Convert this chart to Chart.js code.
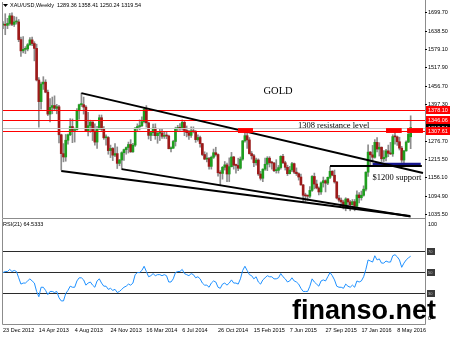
<!DOCTYPE html>
<html>
<head>
<meta charset="utf-8">
<script src="https://cdn.jsdelivr.net/npm/chart.js@4.4.1/dist/chart.umd.min.js"></script>
<style>
  html, body { margin: 0; padding: 0; background: #fff; }
  #wrap { position: relative; width: 450px; height: 337px; overflow: hidden; }
  canvas { position: absolute; left: 0; }
  #price { top: 0; }
  #rsi { top: 218px; }
</style>
</head>
<body>
<div id="wrap">
  <canvas id="price" width="450" height="219"></canvas>
  <canvas id="rsi" width="450" height="119"></canvas>
</div>
<script>
// weekly XAU/USD, 23 Dec 2012 .. 19 Jun 2016
const opens = [1657,1657,1656,1662,1687,1659,1667,1667,1609,1572,
  1577,1578,1592,1608,1596,1580,1476,1405,1463,1469,
  1436,1364,1386,1392,1383,1388,1296,1234,1223,1278,
  1296,1323,1310,1313,1375,1395,1395,1387,1308,1326,
  1338,1308,1272,1315,1352,1314,1286,1287,1244,1251,
  1229,1234,1202,1213,1237,1247,1254,1264,1240,1262,
  1318,1323,1326,1339,1379,1335,1294,1303,1318,1293,
  1301,1302,1291,1293,1292,1250,1252,1274,1316,1320,
  1317,1337,1310,1303,1294,1309,1306,1280,1287,1267,
  1231,1216,1218,1192,1222,1237,1231,1171,1169,1189,
  1197,1167,1191,1223,1196,1195,1186,1216,1276,1293,
  1279,1234,1227,1204,1213,1167,1153,1183,1199,1219,
  1204,1203,1178,1179,1188,1225,1204,1189,1168,1180,
  1201,1173,1168,1157,1131,1097,1095,1094,1113,1159,
  1134,1121,1108,1138,1145,1137,1156,1176,1163,1141,
  1088,1081,1075,1056,1085,1075,1066,1076,1061,1098,
  1089,1097,1117,1173,1239,1230,1222,1271,1249,1255,
  1217,1222,1243,1235,1233,1290,1289,1273,1252,1213,
  1243,1272,1289.36];
const highs = [1668,1694,1679,1695,1697,1685,1683,1675,1617,1619,
  1586,1596,1616,1617,1602,1594,1484,1469,1487,1477,
  1443,1415,1420,1424,1396,1393,1298,1267,1297,1298,
  1349,1348,1318,1382,1397,1433,1420,1392,1370,1344,
  1339,1332,1324,1361,1361,1323,1296,1290,1262,1254,
  1267,1256,1215,1240,1249,1256,1272,1280,1268,1320,
  1332,1345,1355,1385,1392,1338,1305,1331,1332,1304,
  1316,1315,1307,1306,1295,1256,1278,1321,1327,1333,
  1345,1340,1325,1311,1322,1322,1310,1296,1292,1268,
  1240,1237,1222,1226,1249,1255,1233,1178,1192,1208,
  1203,1220,1238,1225,1200,1219,1223,1277,1307,1304,
  1287,1241,1232,1219,1217,1176,1184,1219,1224,1224,
  1209,1205,1214,1195,1227,1232,1209,1196,1192,1205,
  1203,1187,1171,1167,1133,1104,1098,1126,1162,1170,
  1147,1125,1141,1157,1148,1157,1191,1178,1180,1142,
  1097,1088,1081,1089,1086,1080,1083,1083,1112,1106,
  1111,1128,1174,1263,1241,1261,1280,1287,1270,1256,
  1244,1248,1262,1271,1296,1304,1292,1288,1258,1245,
  1276,1316,1358.41];
const lows = [1645,1625,1645,1656,1655,1652,1660,1602,1554,1565,
  1563,1572,1590,1589,1539,1473,1321,1380,1445,1434,
  1359,1338,1365,1375,1365,1269,1180,1207,1209,1265,
  1293,1270,1272,1311,1347,1389,1364,1308,1292,1304,
  1277,1262,1251,1313,1310,1281,1262,1232,1221,1211,
  1224,1185,1194,1182,1212,1232,1236,1238,1238,1258,
  1306,1312,1323,1335,1321,1282,1277,1293,1281,1268,
  1277,1284,1284,1283,1250,1240,1251,1259,1308,1310,
  1311,1293,1289,1281,1287,1302,1271,1275,1255,1227,
  1214,1207,1183,1183,1218,1226,1160,1131,1150,1180,
  1142,1142,1190,1183,1170,1178,1183,1212,1272,1251,
  1232,1216,1191,1196,1162,1147,1142,1179,1178,1190,
  1183,1175,1170,1170,1183,1201,1180,1162,1167,1175,
  1168,1162,1147,1130,1077,1077,1080,1088,1110,1118,
  1118,1098,1100,1124,1108,1132,1152,1161,1137,1085,
  1075,1065,1052,1046,1062,1046,1064,1046,1058,1072,
  1081,1094,1111,1159,1191,1206,1219,1240,1226,1208,
  1208,1210,1224,1231,1225,1265,1261,1246,1205,1200,
  1242,1270,1250.24];
const closes = [1657,1656,1662,1687,1659,1667,1667,1609,1572,1577,
  1578,1592,1608,1596,1580,1476,1405,1463,1469,1436,
  1364,1386,1392,1383,1388,1296,1234,1223,1278,1296,
  1323,1310,1313,1375,1395,1395,1387,1308,1326,1338,
  1308,1272,1315,1352,1314,1286,1287,1244,1251,1229,
  1234,1202,1213,1237,1247,1254,1264,1240,1262,1318,
  1323,1326,1339,1379,1335,1294,1303,1318,1293,1301,
  1302,1291,1293,1292,1250,1252,1274,1316,1320,1317,
  1337,1310,1303,1294,1309,1306,1280,1287,1267,1231,
  1216,1218,1192,1222,1237,1231,1171,1169,1189,1197,
  1167,1191,1223,1196,1195,1186,1216,1276,1293,1279,
  1234,1227,1204,1213,1167,1153,1183,1199,1219,1204,
  1203,1178,1179,1188,1225,1204,1189,1168,1180,1201,
  1173,1168,1157,1131,1097,1095,1094,1113,1159,1134,
  1121,1108,1138,1145,1137,1156,1176,1163,1141,1088,
  1081,1075,1056,1085,1075,1066,1076,1061,1098,1089,
  1097,1117,1173,1239,1230,1222,1271,1249,1255,1217,
  1222,1243,1235,1233,1290,1289,1273,1252,1213,1243,
  1272,1298,1319.54];
const rsi = [49,50,50,52,50,51,50,44,38,39,
  39,41,43,41,39,31,26,35,35,32,
  28,31,31,30,31,25,22,22,29,32,
  36,35,35,41,44,44,42,37,39,40,
  37,35,41,43,39,36,36,33,34,32,
  33,30,31,33,35,36,38,37,39,47,
  49,49,51,55,50,45,46,48,46,47,
  47,46,47,46,40,40,43,49,50,50,
  52,48,47,46,48,47,44,45,43,39,
  37,37,35,39,41,40,35,34,38,39,
  37,39,42,39,39,38,43,51,55,51,
  47,46,43,45,40,38,42,44,46,45,
  45,43,43,44,48,45,43,40,41,44,
  41,40,38,34,31,31,31,36,43,40,
  38,36,41,42,41,45,49,46,42,36,
  35,35,34,38,36,35,37,35,41,40,
  41,45,52,61,60,59,65,61,62,58,
  58,60,59,59,65,66,64,61,54,58,
  61,63,64.5333];

const priceTicks = [1699.70, 1638.50, 1579.10, 1517.90, 1456.70, 1397.30, 1276.70, 1215.50, 1156.10, 1094.90, 1035.50];
const levels = [1378.10, 1346.06, 1307.61];
const rsiLevels = [70, 50, 30];
const dateTicks = [0, 16, 32, 48, 64, 80, 96, 112, 128, 144, 160, 176];
const dateLabels = ['23 Dec 2012', '14 Apr 2013', '4 Aug 2013', '24 Nov 2013', '16 Mar 2014', '6 Jul 2014',
  '26 Oct 2014', '15 Feb 2015', '7 Jun 2015', '27 Sep 2015', '17 Jan 2016', '8 May 2016'];

// drawn objects, anchored in (bar index, price)
const trendLines = [
  [35, 1433, 187.5, 1170],
  [26, 1177, 181.7, 1029],
  [53, 1183, 182, 1027],
  [146, 1193, 187, 1193],
];
const redBlocks = [[104.9, 111.6], [171, 178], [180.4, 187.5]];
const notes = [
  { text: 'GOLD', i: 122.8, p: 1440, size: 10.5, align: 'center' },
  { text: '1308 resistance level', i: 131.7, p: 1325, size: 8.5, align: 'left' },
  { text: '$1200 support', i: 165, p: 1153, size: 8.5, align: 'left' },
];

const N = closes.length;
const idx = closes.map((_, i) => i);
const X_MIN = -0.45, X_MAX = 188.4;
const BULL = '#1f9e1f', BEAR = '#9e1a1a', WICK = '#8c8c8c', FRAME = '#8c8c8c';
const SANS = '"Liberation Sans", Arial, sans-serif';
const SERIF = '"Liberation Serif", "Times New Roman", serif';

function hline(ctx, a, yp, color, w) {
  ctx.strokeStyle = color;
  ctx.lineWidth = w;
  ctx.beginPath();
  ctx.moveTo(a.left, Math.round(yp) + 0.5);
  ctx.lineTo(a.right, Math.round(yp) + 0.5);
  ctx.stroke();
}

function frame(ctx, a) {
  ctx.strokeStyle = FRAME;
  ctx.lineWidth = 1;
  ctx.beginPath();
  ctx.moveTo(Math.floor(a.left) + 0.5, a.top);
  ctx.lineTo(Math.floor(a.left) + 0.5, a.bottom + 0.5);
  ctx.lineTo(Math.floor(a.right) + 0.5, a.bottom + 0.5);
  ctx.lineTo(Math.floor(a.right) + 0.5, 0);
  ctx.stroke();
}

const priceDecor = {
  id: 'priceDecor',
  afterDatasetsDraw(chart) {
    const { ctx, chartArea: a, scales: { x, y } } = chart;
    ctx.save();
    ctx.beginPath();
    ctx.rect(a.left, a.top, a.right - a.left, a.bottom - a.top);
    ctx.clip();
    hline(ctx, a, y.getPixelForValue(closes[N - 1]), '#c8c8c8', 1);
    levels.forEach(v => hline(ctx, a, y.getPixelForValue(v), '#ff0000', 1));

    // $1200 support band
    ctx.fillStyle = '#16168c';
    const bx1 = x.getPixelForValue(165), bx2 = x.getPixelForValue(186.5);
    const by1 = y.getPixelForValue(1204), by2 = y.getPixelForValue(1191);
    ctx.fillRect(bx1, by1, bx2 - bx1, by2 - by1);

    ctx.strokeStyle = '#000';
    ctx.lineWidth = 2;
    trendLines.forEach(([i1, p1, i2, p2]) => {
      ctx.beginPath();
      ctx.moveTo(x.getPixelForValue(i1), y.getPixelForValue(p1));
      ctx.lineTo(x.getPixelForValue(i2), y.getPixelForValue(p2));
      ctx.stroke();
    });

    ctx.fillStyle = '#ff0000';
    redBlocks.forEach(([i1, i2]) => {
      const x1 = x.getPixelForValue(i1), x2 = x.getPixelForValue(i2);
      const y1 = y.getPixelForValue(1318), y2 = y.getPixelForValue(1302);
      ctx.fillRect(x1, y1, x2 - x1, y2 - y1);
    });
    ctx.restore();

    ctx.save();
    ctx.fillStyle = '#000';
    ctx.textBaseline = 'middle';
    notes.forEach(n => {
      ctx.font = `${n.size}px ${SERIF}`;
      ctx.textAlign = n.align;
      ctx.fillText(n.text, x.getPixelForValue(n.i), y.getPixelForValue(n.p));
    });
    ctx.restore();
  },
  afterDraw(chart) {
    const { ctx, chartArea: a, scales: { y } } = chart;
    ctx.save();
    frame(ctx, a);
    ctx.font = `5.5px ${SANS}`;
    ctx.textBaseline = 'middle';
    ctx.textAlign = 'left';
    ctx.fillStyle = '#000';
    ctx.strokeStyle = '#000';
    ctx.lineWidth = 1;
    priceTicks.forEach(v => {
      const yp = Math.round(y.getPixelForValue(v)) + 0.5;
      ctx.beginPath();
      ctx.moveTo(a.right, yp);
      ctx.lineTo(a.right + 2, yp);
      ctx.stroke();
      ctx.fillText(v.toFixed(2), a.right + 3, yp);
    });
    const tag = (v, bg) => {
      const yp = Math.round(y.getPixelForValue(v));
      ctx.fillStyle = bg;
      ctx.fillRect(a.right + 1, yp - 4, 450 - a.right - 1, 8);
      ctx.fillStyle = '#fff';
      ctx.fillText(v.toFixed(2), a.right + 3, yp + 0.5);
    };
    tag(closes[N - 1], '#000');
    levels.forEach(v => tag(v, '#ff0000'));

    // header
    ctx.fillStyle = '#000';
    ctx.beginPath();
    ctx.moveTo(3, 4); ctx.lineTo(8, 4); ctx.lineTo(5.5, 7); ctx.closePath();
    ctx.fill();
    ctx.font = `5.5px ${SANS}`;
    const last = [opens, highs, lows, closes].map(s => s[N - 1].toFixed(2)).join(' ');
    ctx.fillText('XAU/USD,Weekly  ' + last, 10, 5.5);
    ctx.restore();
  }
};

const rsiDecor = {
  id: 'rsiDecor',
  beforeDatasetsDraw(chart) {
    const { ctx, chartArea: a, scales: { y } } = chart;
    ctx.save();
    rsiLevels.forEach(v => hline(ctx, a, y.getPixelForValue(v), '#2b2b2b', 1));
    ctx.restore();
  },
  afterDraw(chart) {
    const { ctx, chartArea: a, scales: { x, y } } = chart;
    ctx.save();
    frame(ctx, a);
    ctx.fillStyle = '#000';
    ctx.font = `5.5px ${SANS}`;
    ctx.textBaseline = 'middle';
    ctx.textAlign = 'left';
    ctx.fillText('RSI(21) ' + rsi[N - 1].toFixed(4), 3, a.top + 5);
    ctx.fillText('100', a.right + 3, a.top + 5);
    ctx.fillText('0', a.right + 3, a.bottom - 6);
    rsiLevels.forEach(v => {
      const yp = Math.round(y.getPixelForValue(v));
      ctx.fillStyle = '#3a3a3a';
      ctx.fillRect(a.right + 2, yp - 3, 8, 7);
      ctx.fillStyle = '#bbb';
      ctx.font = `4px ${SANS}`;
      ctx.fillText(String(v), a.right + 3, yp + 0.5);
    });
    ctx.fillStyle = '#000';
    ctx.font = `5.5px ${SANS}`;
    dateTicks.forEach((t, k) => {
      ctx.fillText(dateLabels[k], x.getPixelForValue(t), a.bottom + 6);
    });
    // watermark
    ctx.font = `bold 27px ${SANS}`;
    ctx.textBaseline = 'alphabetic';
    ctx.fillText('finanso.net', 292, 101);
    ctx.restore();
  }
};

const baseOptions = (yMin, yMax, pad) => ({
  animation: false,
  responsive: false,
  devicePixelRatio: 1,
  events: [],
  layout: { padding: pad },
  plugins: { legend: { display: false }, tooltip: { enabled: false } },
  scales: {
    x: { type: 'linear', min: X_MIN, max: X_MAX, offset: false, display: false },
    y: { type: 'linear', min: yMin, max: yMax, display: false }
  }
});

new Chart(document.getElementById('price'), {
  type: 'bar',
  data: {
    datasets: [
      {
        data: idx.map(i => ({ x: i, y: [lows[i], highs[i]] })),
        backgroundColor: WICK,
        barThickness: 1,
        grouped: false,
        order: 2
      },
      {
        data: idx.map(i => ({ x: i, y: [opens[i], closes[i]] })),
        backgroundColor: c => closes[c.dataIndex] >= opens[c.dataIndex] ? BULL : BEAR,
        barThickness: 2,
        minBarLength: 1,
        grouped: false,
        order: 1
      }
    ]
  },
  options: baseOptions(1022.3, 1732.6, { left: 2, right: 25, top: 2, bottom: 1 }),
  plugins: [priceDecor]
});

new Chart(document.getElementById('rsi'), {
  type: 'line',
  data: {
    datasets: [{
      data: idx.map(i => ({ x: i, y: rsi[i] })),
      borderColor: '#1e90ff',
      borderWidth: 1,
      pointRadius: 0,
      tension: 0
    }]
  },
  options: baseOptions(0, 100, { left: 2, right: 25, top: 1, bottom: 13 }),
  plugins: [rsiDecor]
});
</script>
</body>
</html>
